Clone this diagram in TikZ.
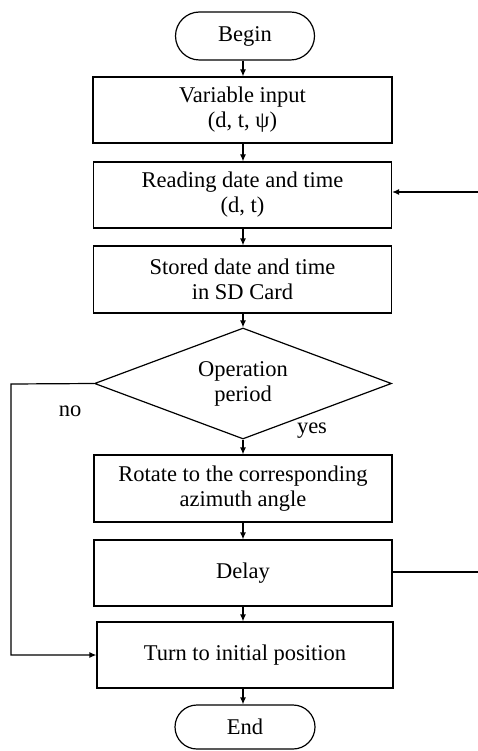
\documentclass[tikz,border=0pt]{standalone}
\usepackage{fontspec}
\setmainfont{Liberation Serif}
\usetikzlibrary{shapes.geometric,shapes.misc,arrows.meta,calc}
\begin{document}
\begin{tikzpicture}[x=1pt,y=-1pt,
  line width=1.2pt,
  font=\fontsize{22.5}{25}\selectfont,
  box/.style={draw,rectangle,align=center,inner sep=0pt},
  term/.style={draw,rounded rectangle,align=center,inner sep=0pt},
  decision/.style={draw,diamond,align=center,inner sep=0pt,aspect=2.7,
    minimum width=297pt,minimum height=111pt},
  arr/.style={-{Latex[length=7pt,width=6pt]}},
  lbl/.style={inner sep=0pt}]
\useasboundingbox (0,0) rectangle (478,751);

% process chain
\node[term,minimum width=139pt,minimum height=48pt] (begin) at (245,36) {Begin};
\node[box,minimum width=299pt,minimum height=66pt] (input) at (242.5,110) {Variable input\\(d, t, ψ)};
\node[box,minimum width=298pt,minimum height=66pt] (read) at (242.5,195) {Reading date and time\\(d, t)};
\node[box,minimum width=298pt,minimum height=67pt] (store) at (242.5,279.5) {Stored date and time\\in SD Card};
\node[decision] (period) at (243,383.5) {Operation\\period};
\node[box,minimum width=298pt,minimum height=67pt] (rotate) at (243,488.5) {Rotate to the corresponding\\azimuth angle};
\node[box,minimum width=298pt,minimum height=66pt] (delay) at (243,573) {Delay};
\node[box,minimum width=296pt,minimum height=66pt] (turn) at (245,655) {Turn to initial position};
\node[term,minimum width=140pt,minimum height=44pt] (end) at (245,727) {End};

% branch labels
\node[lbl] (no) at (70,411) {no};
\node[lbl] (yes) at (312,431) {yes};

% loop ends at the right margin
\coordinate (loopin) at (478,192);
\coordinate (loopout) at (478,572);
\coordinate (nocorner) at (11,384);

% downward flow
\draw[arr] (begin.south -| 243,0) -- (243,0 |- input.north);
\draw[arr] (input.south -| 243,0) -- (243,0 |- read.north);
\draw[arr] (read.south -| 243,0) -- (243,0 |- store.north);
\draw[arr] (store.south -| 243,0) -- (period.north);
\draw[arr] (period.south) -- (243,0 |- rotate.north);
\draw[arr] (rotate.south -| 243,0) -- (243,0 |- delay.north);
\draw[arr] (delay.south -| 243,0) -- (243,0 |- turn.north);
\draw[arr] (turn.south -| 243,0) -- (243,0 |- end.north);

% "no" branch
\draw[arr] (period.west) -- (nocorner) |- (turn.west);

% loop back to reading
\draw (delay.east |- loopout) -- (loopout);
\draw[arr] (loopin) -- (loopin -| read.east);
\end{tikzpicture}
\end{document}
